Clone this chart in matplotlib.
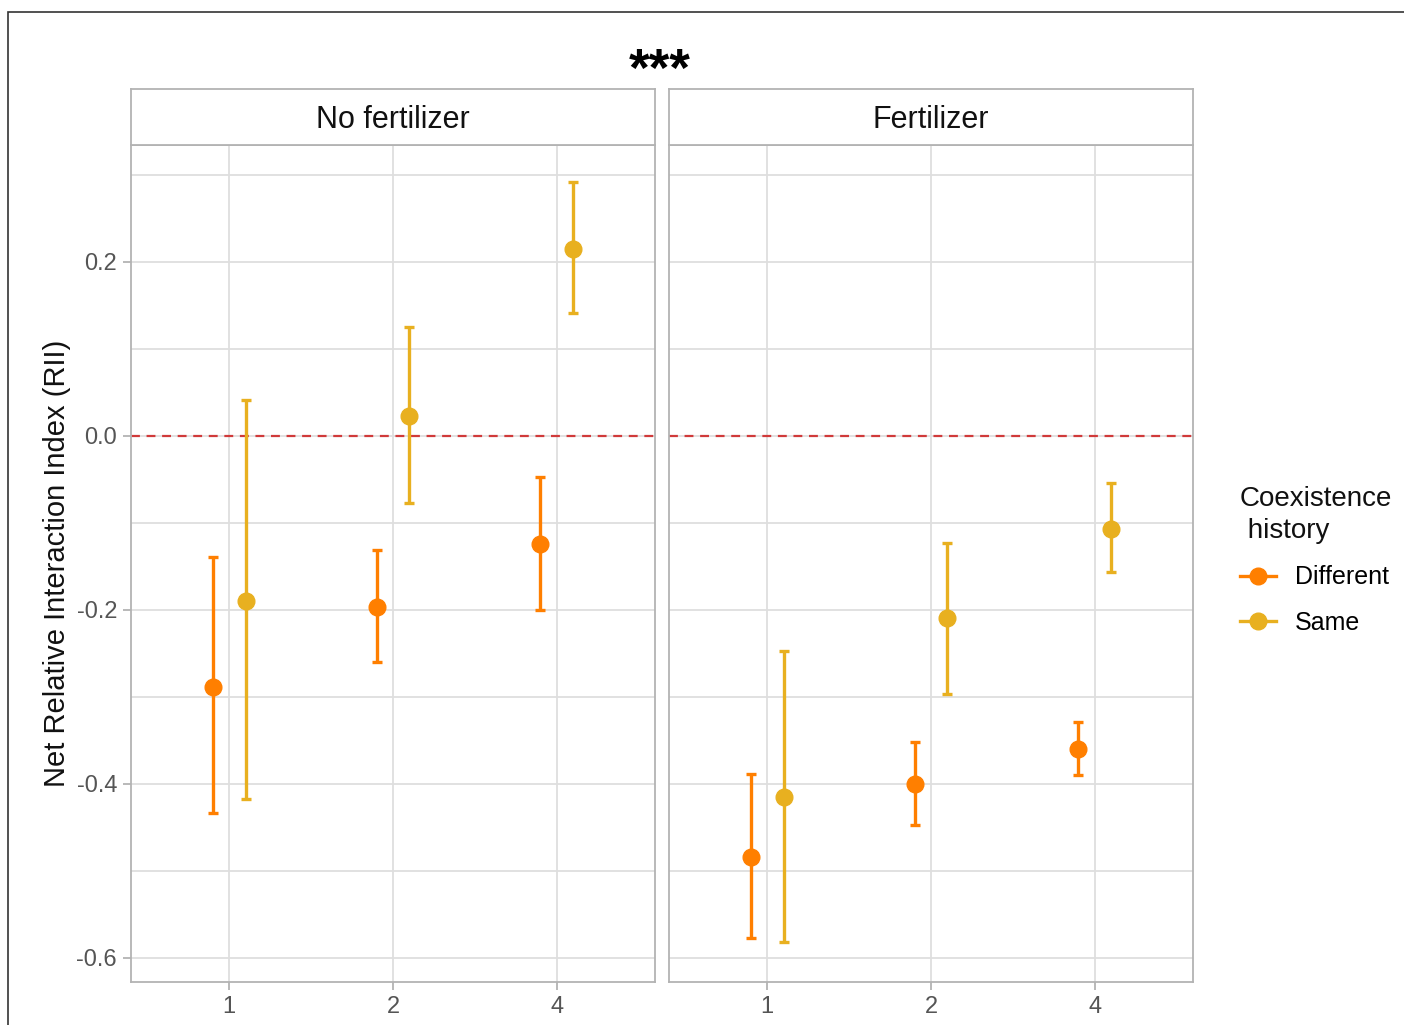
import matplotlib
matplotlib.use("Agg")
import matplotlib.pyplot as plt
from matplotlib.lines import Line2D
from matplotlib.patches import Rectangle

plt.rcParams['font.family'] = ['Liberation Sans', 'DejaVu Sans']

panels = ['No fertilizer', 'Fertilizer']
categories = ['1', '2', '4']
groups = ['Different', 'Same']
colors = {'Different': '#FF7F00', 'Same': '#E8B020'}

# mean, lower, upper per panel / group / category
means = {
    'No fertilizer': {'Different': [-0.289, -0.197, -0.125],
                      'Same': [-0.190, 0.022, 0.215]},
    'Fertilizer': {'Different': [-0.484, -0.401, -0.360],
                   'Same': [-0.415, -0.210, -0.107]},
}
lower = {
    'No fertilizer': {'Different': [-0.434, -0.260, -0.200],
                      'Same': [-0.418, -0.078, 0.141]},
    'Fertilizer': {'Different': [-0.577, -0.448, -0.390],
                   'Same': [-0.582, -0.297, -0.157]},
}
upper = {
    'No fertilizer': {'Different': [-0.140, -0.131, -0.048],
                      'Same': [0.041, 0.125, 0.292]},
    'Fertilizer': {'Different': [-0.389, -0.352, -0.329],
                   'Same': [-0.247, -0.124, -0.055]},
}

W, H = 1404, 1025
fig = plt.figure(figsize=(W / 100, H / 100), dpi=100)

# outer frame of the original figure
fig.patches.append(Rectangle((8 / W, -0.1), 1.2, 1 - 12 / H + 0.1,
                             transform=fig.transFigure, fill=False,
                             edgecolor='#333333', linewidth=1.2))

grid_col = '#DEDEDE'
border_col = '#B3B3B3'
dodge = {'Different': -0.1, 'Same': 0.1}
lefts = [131, 669]
pw = 524
top, bottom = 145, 982

for i, panel in enumerate(panels):
    ax = fig.add_axes([lefts[i] / W, 1 - bottom / H, pw / W, (bottom - top) / H])
    x = list(range(1, len(categories) + 1))
    ax.set_xlim(0.4, 3.6)
    ax.set_ylim(-0.628, 0.334)
    ax.set_yticks([-0.6, -0.4, -0.2, 0.0, 0.2])
    ax.set_yticks([-0.5, -0.3, -0.1, 0.1, 0.3], minor=True)
    ax.set_xticks(x)
    ax.set_xticklabels(categories)
    ax.grid(True, which='major', color=grid_col, linewidth=1.3)
    ax.grid(True, which='minor', axis='y', color=grid_col, linewidth=1.3)
    ax.set_axisbelow(True)
    for s in ax.spines.values():
        s.set_color(border_col)
        s.set_linewidth(1.3)
    ax.tick_params(axis='both', which='major', colors=border_col, length=6,
                   width=1.3, labelsize=17, labelcolor='#555555', pad=4)
    ax.tick_params(axis='y', which='minor', length=0)
    if i == 0:
        ax.set_yticklabels(['-0.6', '-0.4', '-0.2', '0.0', '0.2'])
        ax.set_ylabel('Net Relative Interaction Index (RII)', fontsize=21,
                      labelpad=4, color='#111111')
    else:
        ax.tick_params(axis='y', which='both', left=False, labelleft=False)

    ax.axhline(0, color='#D03A3A', linestyle=(0, (4, 3)), linewidth=1.6, zorder=2)

    for g in groups:
        xs = [xi + dodge[g] for xi in x]
        m = means[panel][g]
        lo = [mv - l for mv, l in zip(m, lower[panel][g])]
        hi = [u - mv for mv, u in zip(m, upper[panel][g])]
        ax.errorbar(xs, m, yerr=[lo, hi], fmt='o', color=colors[g],
                    ecolor=colors[g], elinewidth=2.4, capsize=3.5,
                    capthick=2.4, markersize=12, zorder=3)

    # strip
    sax = fig.add_axes([lefts[i] / W, 1 - 145 / H, pw / W, 56 / H])
    sax.set_xticks([])
    sax.set_yticks([])
    for s in sax.spines.values():
        s.set_color(border_col)
        s.set_linewidth(1.3)
    sax.text(0.5, 0.44, panel, ha='center', va='center', fontsize=22,
             color='#111111', transform=sax.transAxes)

fig.text(660 / W, 1 - 72 / H, '***', ha='center', va='center', fontsize=38,
         fontweight='bold')

handles = [Line2D([0], [0], color=colors[g], marker='o', markersize=12,
                  linewidth=2.4) for g in groups]
leg = fig.legend(handles, groups, loc='upper left',
                 bbox_to_anchor=(1240 / W, 1 - 486 / H),
                 title='Coexistence\n history', frameon=False, fontsize=18,
                 title_fontsize=20, handlelength=1.45, labelspacing=0.85,
                 handletextpad=0.75, alignment='left', borderpad=0,
                 borderaxespad=0)
leg.get_title().set_color('#111111')
leg.get_title().set_linespacing(1.3)

fig.savefig('out.png', dpi=100)
